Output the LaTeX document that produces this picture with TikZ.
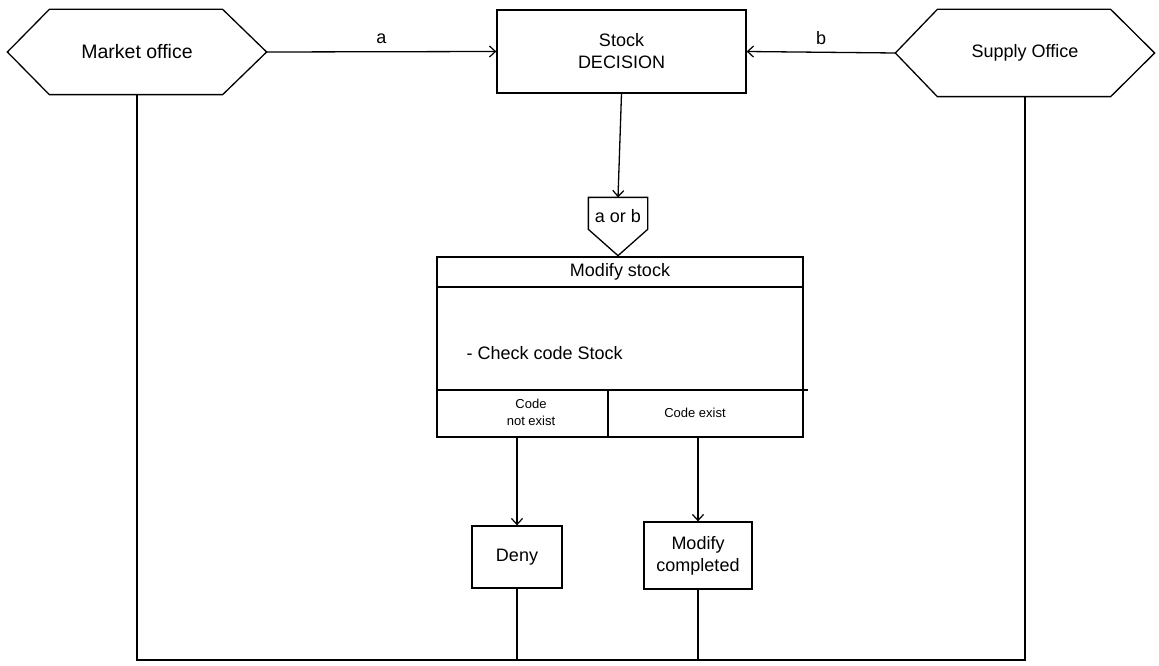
\documentclass[tikz,border=0pt]{standalone}
\usepackage{fontspec}
\setmainfont{Liberation Sans}
\usetikzlibrary{arrows.meta,calc}
\begin{document}
\begin{tikzpicture}[x=1pt,y=-1pt,
  line width=1.3pt,
  every node/.style={inner sep=0pt},
  big/.style={font=\fontsize{18}{22}\selectfont, align=center},
  small/.style={font=\fontsize{13}{17}\selectfont, align=center},
  frame/.style={draw, rectangle, big},
  flow/.style={-{Straight Barb[length=6pt,width=11pt,line width=1.2pt]}}
]
\useasboundingbox (0,0) rectangle (1159,666);

% office hexagons (node frames the text, path draws the outline)
\node[big, font=\fontsize{19.5}{22}\selectfont, rectangle, minimum width=258pt, minimum height=84pt] (mkt) at (137,52) {Market office};
\draw (mkt.west) -- ($(mkt.north west)+(42,0)$) -- ($(mkt.north east)+(-44,0)$)
  -- (mkt.east) -- ($(mkt.south east)+(-44,0)$) -- ($(mkt.south west)+(42,0)$) -- cycle;

\node[big, rectangle, minimum width=258pt, minimum height=86pt] (sup) at (1025,53) {Supply Office};
\draw (sup.west) -- ($(sup.north west)+(42,0)$) -- ($(sup.north east)+(-44,0)$)
  -- (sup.east) -- ($(sup.south east)+(-44,0)$) -- ($(sup.south west)+(42,0)$) -- cycle;

% decision box
\node[frame, minimum width=249pt, minimum height=83pt] (dec) at (621.5,51.5) {Stock\\DECISION};

\draw[flow] (mkt.east) -- node[big, above=7pt] {a} (dec.west);
\draw[flow] (sup.west) -- node[big, above=7pt] {b} (dec.east);

% off-page connector "a or b"
\node[rectangle, minimum width=58pt, minimum height=57pt] (aorb) at (618,226.5) {};
\draw ($(aorb.north west)$) -- (aorb.north east) -- ($(aorb.north east)+(0,32)$)
  -- (aorb.south) -- ($(aorb.north west)+(0,32)$) -- cycle;
\node[big] at (618,216) {a or b};

\draw[flow] (dec.south) -- (aorb.north);

% modify stock block
\node[draw, rectangle, minimum width=366pt, minimum height=180pt] (mod) at (620,347) {};
\draw (mod.north west |- 0,287) -- (mod.north east |- 0,287);
\draw (mod.north west |- 0,390) -- ($(mod.north east |- 0,390)+(4,0)$);
\draw (608,390) -- (608,437);
\node[big] at (620,272) {Modify stock};
\node[big, anchor=west] at (466,353) {- Check code Stock};
\node[small] at (531,412) {Code\\not exist};
\node[small] at (695,413) {Code exist};

% outcomes
\node[frame, minimum width=90pt, minimum height=62pt] (deny) at (517,557) {Deny};
\node[frame, minimum width=108pt, minimum height=67pt] (comp) at (698,555.5) {Modify\\completed};

\draw[flow] (deny.north |- mod.south) -- (deny.north);
\draw[flow] (comp.north |- mod.south) -- (comp.north);

% return line
\coordinate (bl) at (mkt.south |- 0,660);
\coordinate (br) at (sup.south |- 0,660);
\draw (mkt.south) -- (bl) -- (br) -- (sup.south);
\draw (deny.south) -- (deny.south |- bl);
\draw (comp.south) -- (comp.south |- bl);
\end{tikzpicture}
\end{document}
